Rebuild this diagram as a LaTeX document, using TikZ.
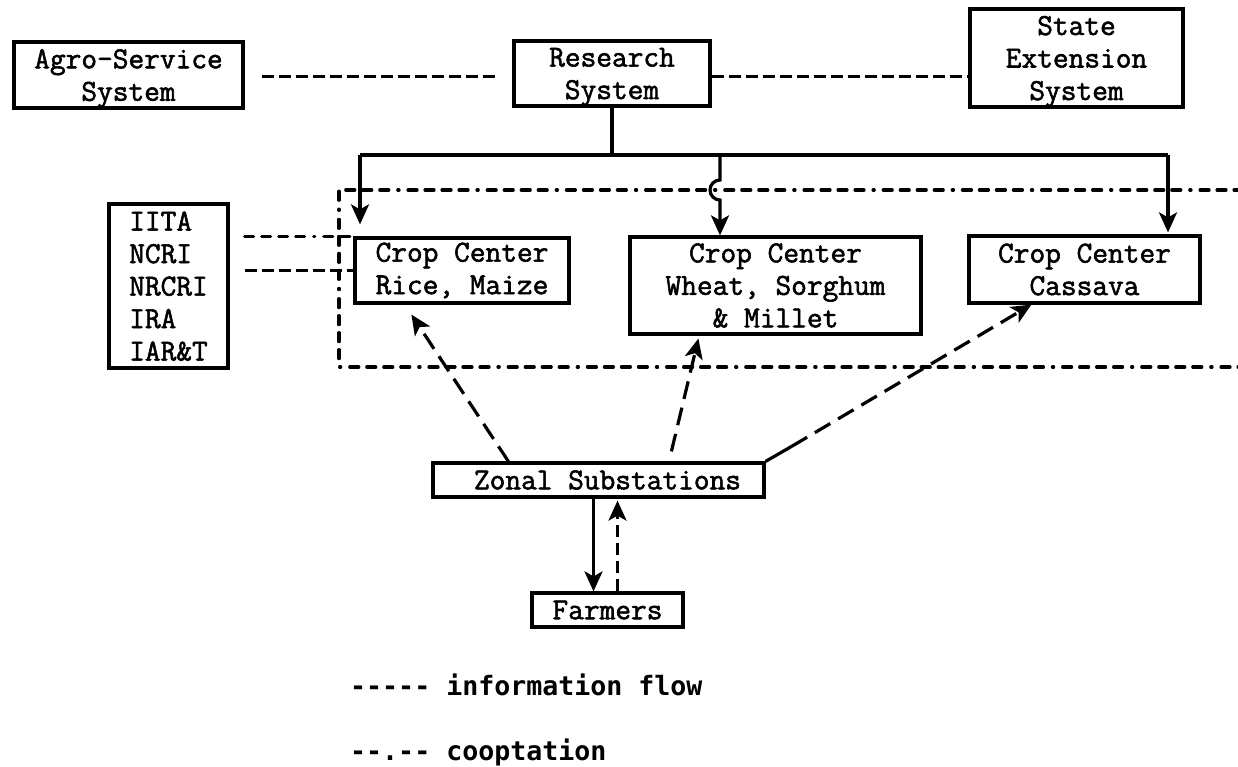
\documentclass[tikz,border=0pt]{standalone}
\usepackage{fontspec}
\newfontfamily\tw{Latin Modern Mono}[FakeBold=1.8]
\newfontfamily\legfont{DejaVu Sans Mono}
\usetikzlibrary{arrows.meta}
\begin{document}
\begin{tikzpicture}[x=1pt,y=-1pt,
  box/.style={draw, line width=3.2pt, inner sep=0pt, align=center,
    font=\tw\bfseries\fontsize{30.5pt}{32.5pt}\selectfont},
  conn/.style={line width=3.2pt},
  info/.style={line width=3.2pt, dash pattern=on 12pt off 5pt},
  infoarrow/.style={line width=3.2pt, dash pattern=on 18pt off 9pt},
  coop/.style={line width=3.2pt, line cap=round,
    dash pattern=on 9pt off 8pt on 9pt off 8pt on 9pt off 8pt on 9pt off 9pt on 1.2pt off 9pt},
  legend/.style={inner sep=0pt, font=\legfont\bfseries\fontsize{26.6pt}{32pt}\selectfont},
  >={Stealth[length=20pt,width=18pt,inset=5pt]}]
\useasboundingbox (0,0) rectangle (1238,767);

% boxes
\node[box, minimum width=229pt, minimum height=66pt, text depth=-3pt] (agro) at (128.5,75) {Agro-Service\\System};
\node[box, minimum width=196pt, minimum height=65pt, text depth=-3pt] (research) at (612,73.5) {Research\\System};
\node[box, minimum width=213pt, minimum height=98pt, text depth=-3pt] (state) at (1076.5,58) {State\\Extension\\System};
\node[box, minimum width=119pt, minimum height=164pt, align=left, text depth=-6pt] (iita) at (168.5,286) {IITA\\NCRI\\NRCRI\\IRA\\IAR\&T};
\node[box, minimum width=214pt, minimum height=65pt] (rice) at (462,270.5) {Crop Center\\Rice, Maize};
\node[box, minimum width=291pt, minimum height=97pt] (wheat) at (775.5,285.5) {Crop Center\\Wheat, Sorghum\\\& Millet};
\node[box, minimum width=231pt, minimum height=67pt] (cassava) at (1084.5,269.5) {Crop Center\\Cassava};
\node[box, minimum width=331pt, minimum height=34pt] (zonal) at (598.5,480) {\hspace*{18pt}Zonal Substations};
\node[box, minimum width=151pt, minimum height=34pt] (farmers) at (607.5,610) {Farmers};

% information flow between systems
\coordinate (rw) at ([yshift=-3pt]research.west);
\coordinate (re) at ([yshift=-3pt]research.east);
\draw[info] ([xshift=17pt]agro.east |- rw) -- ([xshift=-16pt]rw);
\draw[info] (re) -- (state.west |- re);

% cooptation region
\draw[coop] (1260,190) -- (339,190) -- (339,367) -- (1260,367);

% research tree
\coordinate (bl) at (360,155);
\coordinate (bm) at (720,155);
\coordinate (br) at (1168,155);
\draw[conn] (research.south) -- (research.south |- bl);
\draw[conn] (bl) -- (br);
\draw[conn,->] (bl) -- ([yshift=12pt]bl |- rice.north);
\draw[conn,->] (bm) -- ++(0,25) arc[start angle=270, end angle=90, radius=10] -- (bm |- wheat.north);
\draw[conn,->] (br) -- ([yshift=2pt]br |- cassava.north);

% IITA links
\draw[coop] ([xshift=15pt]iita.east |- rice.north west) -- (rice.north west);
\draw[info] ([xshift=15pt]iita.east |- rice.west) -- (rice.west);

% zonal to crop centers
\draw[infoarrow,->] ([xshift=77pt]zonal.north west) -- ([xshift=58pt,yshift=-10pt]rice.south west);
\draw[infoarrow,->] ([xshift=240pt,yshift=10pt]zonal.north west) -- ([xshift=70pt,yshift=-3pt]wheat.south west);
\draw[conn] (zonal.north east) -- ++(26,-15) coordinate (zc);
\draw[infoarrow,->] (zc) -- ([xshift=64pt]cassava.south west);

% zonal <-> farmers
\coordinate (fa) at ([xshift=-14pt]farmers.north);
\coordinate (fb) at ([xshift=10pt]farmers.north);
\draw[conn,->] (fa |- zonal.south) -- (fa);
\draw[line width=3.2pt, dash pattern=on 12pt off 6pt,->] (fb) -- ([yshift=-2pt]fb |- zonal.south);

% legend
\node[legend, anchor=base west] (leg1) at (350,695) {-{}-{}-{}-{}- information flow};
\node[legend, anchor=base west] (leg2) at (350,760) {-{}-.-{}- cooptation};
\end{tikzpicture}
\end{document}
